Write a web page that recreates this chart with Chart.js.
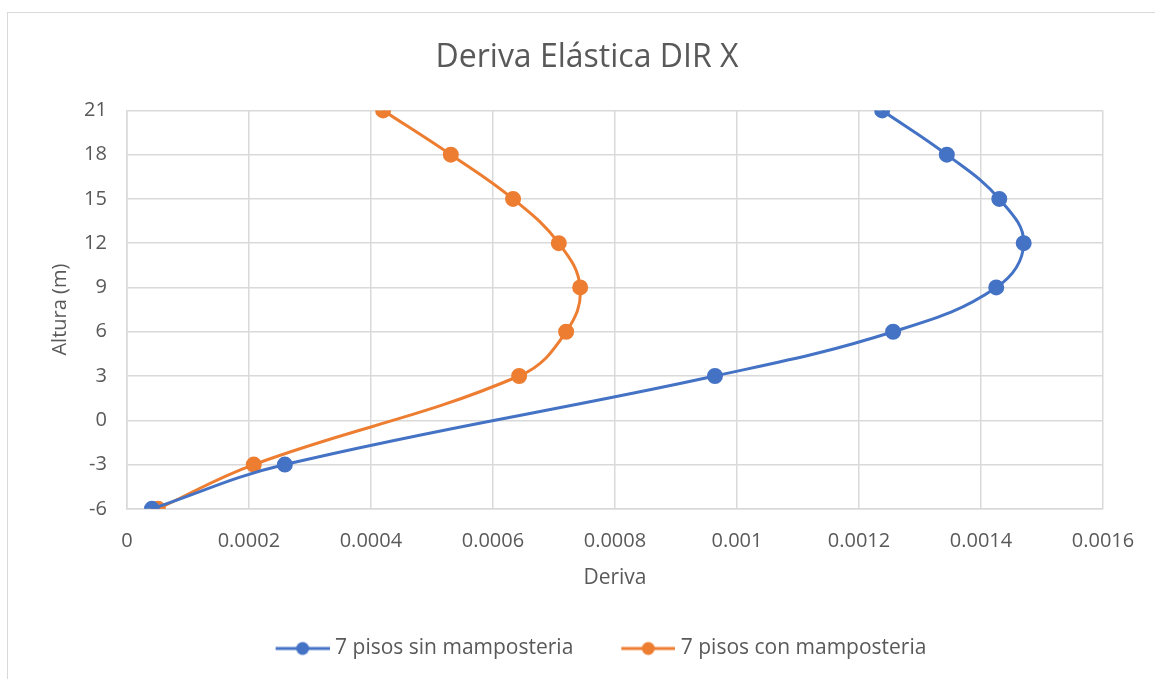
<!DOCTYPE html>
<html>
<head>
<meta charset="utf-8">
<script src="https://cdn.jsdelivr.net/npm/chart.js@4.4.0/dist/chart.umd.min.js"></script>
<style>
  html, body { margin: 0; padding: 0; background: #fff; overflow: hidden; }
  #frame { position: absolute; left: 7px; top: 12px; width: 1160px; height: 680px;
           border: 1px solid #d9d9d9; box-sizing: border-box; }
</style>
</head>
<body>
<div id="frame"><canvas id="chart"></canvas></div>
<script>
// Altura (m) per floor level
var alturas = [-6, -3, 3, 6, 9, 12, 15, 18, 21];
// Deriva, 7 pisos sin mamposteria
var sinMamposteria = [0.000041, 0.000259, 0.000964, 0.001256, 0.001425, 0.00147, 0.00143, 0.001344, 0.001238];
// Deriva, 7 pisos con mamposteria
var conMamposteria = [0.000051, 0.000208, 0.000643, 0.00072, 0.000743, 0.000708, 0.000633, 0.000531, 0.00042];

var seriesNames = ['7 pisos sin mamposteria', '7 pisos con mamposteria'];
var colors = ['#4472C4', '#ED7D31'];

function toPoints(xs) {
    var pts = [];
    for (var i = 0; i < xs.length; i++) {
        pts.push({x: xs[i], y: alturas[i]});
    }
    return pts;
}

// legend icon: short line with a dot, like excel.
// blank on the left = gap between items, spills 5px past the box on the right
var iconGap = 28, iconLen = 54, iconSpill = 5;
function legendIcon(color) {
    var c = document.createElement('canvas');
    c.width = iconGap + iconLen + iconSpill; c.height = 16;
    var ctx = c.getContext('2d');
    var x0 = iconGap + iconSpill;
    ctx.strokeStyle = color;
    ctx.lineWidth = 3;
    ctx.beginPath();
    ctx.moveTo(x0, 8); ctx.lineTo(x0 + iconLen, 8);
    ctx.stroke();
    ctx.fillStyle = color;
    ctx.beginPath();
    ctx.arc(x0 + iconLen / 2, 8, 6.5, 0, Math.PI * 2);
    ctx.fill();
    return c;
}

var font = '"Open Sans", "Noto Sans", sans-serif';
var grey = '#595959';
var grid = '#d9d9d9';

var ctx = document.getElementById('chart').getContext('2d');
new Chart(ctx, {
    type: 'scatter',
    data: {
        datasets: [
            {
                label: seriesNames[0],
                data: toPoints(sinMamposteria),
                showLine: true,
                tension: 0.4,
                borderColor: colors[0],
                backgroundColor: colors[0],
                borderWidth: 3,
                pointRadius: 6.5,
                pointHoverRadius: 6.5,
                pointStyle: 'circle'
            },
            {
                label: seriesNames[1],
                data: toPoints(conMamposteria),
                showLine: true,
                tension: 0.4,
                borderColor: colors[1],
                backgroundColor: colors[1],
                borderWidth: 3,
                pointRadius: 6.5,
                pointHoverRadius: 6.5,
                pointStyle: 'circle'
            }
        ]
    },
    options: {
        responsive: true,
        maintainAspectRatio: false,
        animation: false,
        layout: { padding: { left: 63, right: 63, top: 10, bottom: 22 } },
        plugins: {
            title: {
                display: true,
                text: 'Deriva Elástica DIR X',
                color: grey,
                font: { family: font, size: 32, weight: 'normal' },
                padding: { top: 16, bottom: 33 }
            },
            legend: {
                position: 'bottom',
                labels: {
                    color: grey,
                    font: { family: font, size: 21 },
                    usePointStyle: true,
                    pointStyleWidth: iconGap + iconLen - iconSpill,
                    boxHeight: 16,
                    padding: 20,
                    generateLabels: function (chart) {
                        return chart.data.datasets.map(function (ds, i) {
                            return {
                                text: ds.label,
                                fillStyle: ds.backgroundColor,
                                strokeStyle: ds.borderColor,
                                lineWidth: 0,
                                pointStyle: legendIcon(ds.borderColor),
                                fontColor: grey,
                                datasetIndex: i
                            };
                        });
                    }
                }
            },
            tooltip: { enabled: false }
        },
        scales: {
            x: {
                type: 'linear',
                min: 0,
                max: 0.0016,
                ticks: {
                    stepSize: 0.0002,
                    color: grey,
                    font: { family: font, size: 20 },
                    padding: 20,
                    callback: function (v) { return String(+v.toFixed(4)); }
                },
                grid: { color: grid, lineWidth: 1.5, drawTicks: false },
                border: { color: grid, width: 1.5 },
                title: {
                    display: true,
                    text: 'Deriva',
                    color: grey,
                    font: { family: font, size: 21 },
                    padding: { top: -7, bottom: 27 }
                }
            },
            y: {
                type: 'linear',
                min: -6,
                max: 21,
                ticks: {
                    stepSize: 3,
                    color: grey,
                    font: { family: font, size: 20 },
                    padding: 20
                },
                grid: { color: grid, lineWidth: 1.5, drawTicks: false },
                border: { color: grid, width: 1.5 },
                title: {
                    display: true,
                    text: 'Altura (m)',
                    color: grey,
                    font: { family: font, size: 20 },
                    padding: { top: -23, bottom: -8 }
                }
            }
        }
    }
});
</script>
</body>
</html>
